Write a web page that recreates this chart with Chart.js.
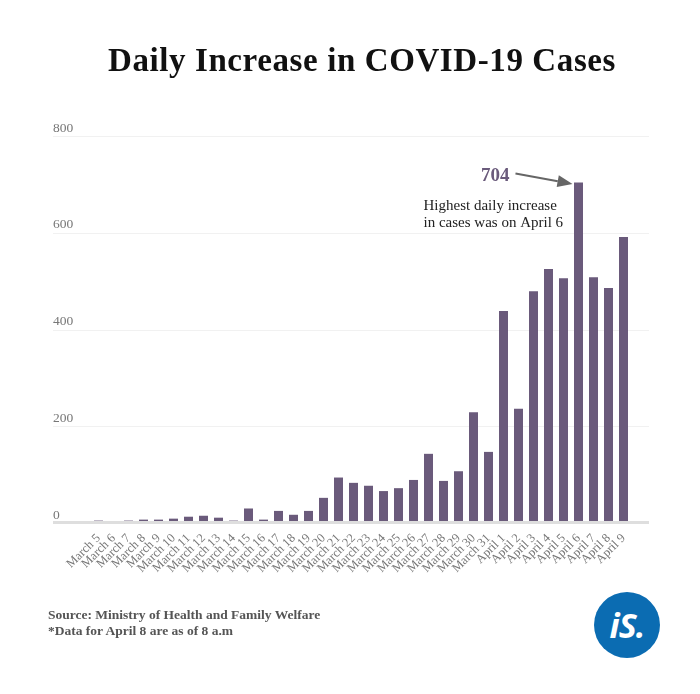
<!DOCTYPE html>
<html>
<head>
<meta charset="utf-8">
<script src="https://cdn.jsdelivr.net/npm/chart.js@4"></script>
<style>
  html, body { margin: 0; padding: 0; background: #fff; }
  #wrap { position: relative; width: 700px; height: 694px; overflow: hidden; }
  #title { position: absolute; left: 0; width: 724px; top: 42px; text-align: center;
    font-family: "Liberation Serif", serif; font-weight: bold; font-size: 33px; color: #111; white-space: nowrap;
    letter-spacing: 0.6px; }
  #src { position: absolute; left: 48px; top: 607px; font-family: "Liberation Serif", serif; font-weight: bold;
    font-size: 13.5px; color: #555; line-height: 16px; }
  #logo { position: absolute; left: 594px; top: 592px; width: 66px; height: 66px; border-radius: 50%;
    background: #0b6cb2; color: #fff; font-family: "Open Sans", sans-serif; font-weight: 700; font-style: italic;
    font-size: 34px; line-height: 66px; text-align: center; letter-spacing: -1px; }
  canvas { position: absolute; left: 0; top: 0; }
</style>
</head>
<body>
<div id="wrap">
  <canvas id="c" width="700" height="694"></canvas>
  <div id="title">Daily Increase in COVID-19 Cases</div>
  <div id="src">Source: Ministry of Health and Family Welfare<br>*Data for April 8 are as of 8 a.m</div>
  <div id="logo">iS.</div>
</div>
<script>
const categories = ["March 5","March 6","March 7","March 8","March 9","March 10","March 11","March 12","March 13","March 14","March 15","March 16","March 17","March 18","March 19","March 20","March 21","March 22","March 23","March 24","March 25","March 26","March 27","March 28","March 29","March 30","March 31","April 1","April 2","April 3","April 4","April 5","April 6","April 7","April 8","April 9"];
const dailyCases = [5,0,5,7,7,9,13,15,11,5,30,7,25,17,25,52,94,83,77,66,72,89,143,87,107,229,147,438,236,479,525,506,704,508,486,591];
const yTicks = [0,200,400,600,800];
const peakLabel = "April 6";
const peakValue = 704;
const noteLines = ["Highest daily increase","in cases was on April 6"];

const gridPlugin = {
  id: 'customGrid',
  beforeDatasetsDraw(chart) {
    const ctx = chart.ctx, y = chart.scales.y;
    ctx.save();
    yTicks.forEach(v => {
      if (v === 0) return;
      const py = Math.round(y.getPixelForValue(v)) + 0.5;
      ctx.strokeStyle = '#f1f1f1';
      ctx.lineWidth = 1;
      ctx.beginPath(); ctx.moveTo(53, py); ctx.lineTo(649, py); ctx.stroke();
    });
    ctx.fillStyle = '#777';
    ctx.font = '13.5px "Liberation Serif", serif';
    ctx.textBaseline = 'middle';
    ctx.textAlign = 'left';
    yTicks.forEach(v => {
      const py = y.getPixelForValue(v);
      ctx.fillText(String(v), 53, py - 8);
    });
    ctx.restore();
  },
  afterDatasetsDraw(chart) {
    const ctx = chart.ctx, y = chart.scales.y, x = chart.scales.x;
    ctx.save();
    const p0 = y.getPixelForValue(0);
    ctx.fillStyle = '#dedede';
    ctx.fillRect(53, Math.round(p0) - 2, 596, 3);
    // annotation
    const idx = categories.indexOf(peakLabel);
    const bx = x.getPixelForValue(idx);
    const by = y.getPixelForValue(peakValue);
    ctx.fillStyle = '#6a5a7b';
    ctx.font = 'bold 19px "Liberation Serif", serif';
    ctx.textAlign = 'right';
    ctx.textBaseline = 'alphabetic';
    ctx.fillText(String(peakValue), bx - 69, by - 1);
    // arrow
    const sx = bx - 63, sy = by - 9, ex = bx - 6, ey = by + 1.5;
    const ang = Math.atan2(ey - sy, ex - sx);
    const hl = 15, hw = 6;
    const lx = ex - hl * Math.cos(ang), ly = ey - hl * Math.sin(ang);
    ctx.strokeStyle = '#666';
    ctx.fillStyle = '#666';
    ctx.lineWidth = 2;
    ctx.beginPath(); ctx.moveTo(sx, sy); ctx.lineTo(lx, ly); ctx.stroke();
    ctx.beginPath();
    ctx.moveTo(ex, ey);
    ctx.lineTo(lx + hw * Math.sin(ang), ly - hw * Math.cos(ang));
    ctx.lineTo(lx - hw * Math.sin(ang), ly + hw * Math.cos(ang));
    ctx.closePath(); ctx.fill();
    // note text
    ctx.fillStyle = '#222';
    ctx.font = '15px "Liberation Serif", serif';
    ctx.textAlign = 'left';
    ctx.fillText(noteLines[0], bx - 155, by + 28);
    ctx.fillText(noteLines[1], bx - 155, by + 45);
    ctx.restore();
  }
};

new Chart(document.getElementById('c'), {
  type: 'bar',
  data: {
    labels: categories,
    datasets: [{
      data: dailyCases,
      backgroundColor: '#6a5a7b',
      barPercentage: 0.6,
      categoryPercentage: 1.0
    }]
  },
  options: {
    responsive: false,
    animation: false,
    layout: { padding: { left: 91, right: 69, top: 136, bottom: 111 } },
    plugins: { legend: { display: false }, tooltip: { enabled: false }, title: { display: false } },
    scales: {
      x: {
        grid: { display: false },
        border: { display: false },
        ticks: {
          autoSkip: false, maxRotation: 45, minRotation: 45,
          color: '#777', font: { family: '"Liberation Serif", serif', size: 12.5 }, padding: 0
        },
        afterFit(scale) { scale.height = 60; }
      },
      y: {
        display: false,
        min: 0, max: 800
      }
    }
  },
  plugins: [gridPlugin]
});
</script>
</body>
</html>
